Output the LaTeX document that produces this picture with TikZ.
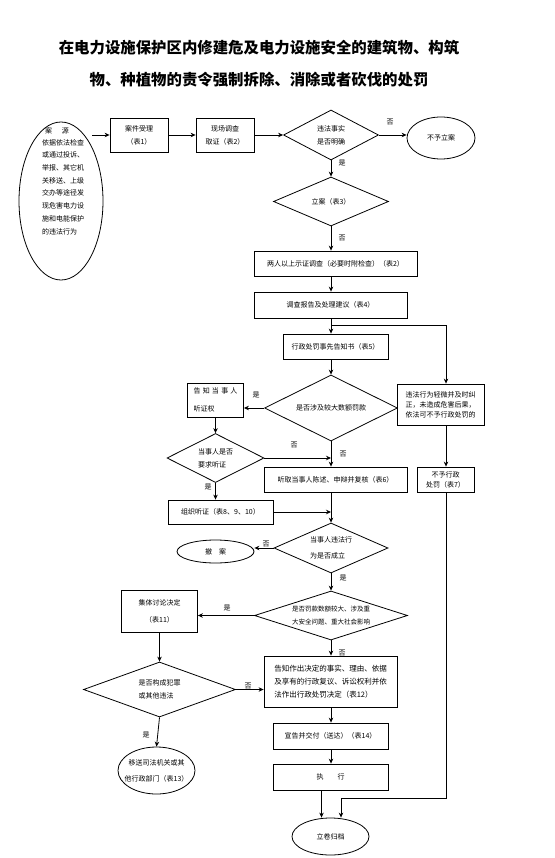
\documentclass[tikz,border=0pt]{standalone}
\usepackage{fontspec}
\newfontfamily\cjk{Noto Sans CJK SC}
\usetikzlibrary{shapes.geometric,arrows.meta}
\begin{document}
\begin{tikzpicture}[x=1pt,y=-1pt,
  every node/.style={font=\cjk\fontsize{7}{13}\selectfont, inner sep=0pt},
  box/.style={draw, line width=0.8pt, rectangle, align=center},
  dia/.style={draw, line width=0.8pt, diamond, align=left},
  ell/.style={draw, line width=0.8pt, ellipse},
  txt/.style={align=left},
  arr/.style={line width=0.8pt, -{Stealth[length=5pt,width=4.5pt]}},
  ln/.style={line width=0.8pt},
  lbl/.style={font=\cjk\fontsize{7}{8}\selectfont}]
\fill[white] (0,0) rectangle (554,858);
\useasboundingbox (0,0) rectangle (554,858);

% title
\node[align=center, font=\cjk\bfseries\fontsize{15.4}{32}\selectfont] (title) at (259,64)
  {在电力设施保护区内修建危及电力设施安全的建筑物、构筑\\物、种植物的责令强制拆除、消除或者砍伐的处罚};

% source ellipse
\node[ell, minimum width=84, minimum height=158] (src) at (61,201) {};
\node (srcA) at (57,131) {案\hspace{10pt}源};
\node[txt, font=\cjk\fontsize{7}{12.7}\selectfont, anchor=north west] (srcB) at (42,139)
  {依据依法检查\\或通过投诉、\\举报、其它机\\关移送、上级\\交办等途径发\\现危害电力设\\施和电能保护\\的违法行为};
\coordinate (srcout) at (92,135);

% top row
\node[box, minimum width=58, minimum height=34] (accept) at (139,135) {案件受理\\（表1）};
\node[box, minimum width=58, minimum height=34] (survey) at (225,135) {现场调查\\取证（表2）};
\node[dia, minimum width=95, minimum height=50, aspect=1.9] (d1) at (331,135) {违法事实\\是否明确};
\node[ell, minimum width=68, minimum height=42] (nocase) at (441,138) {};
\node (nocaseT) at (nocase) {不予立案};

\node[dia, minimum width=115, minimum height=49, aspect=2.35] (d2) at (331,201.5) {立案（表3）};

\node[box, minimum width=163, minimum height=25] (b1) at (335.5,263.5) {两人以上示证调查（必要时附检查）（表2）};
\node[box, minimum width=153, minimum height=26] (b2) at (330.5,305) {调查报告及处理建议（表4）};
\node[box, minimum width=105, minimum height=25] (b3) at (335.5,346.5) {行政处罚事先告知书（表5）};
\coordinate (br) at (331,325);
\coordinate (rc) at (446,325);

\node[box, minimum width=87, minimum height=41, align=left, font=\cjk\fontsize{7}{10}\selectfont] (rb) at (440.5,404.5)
  {违法行为轻微并及时纠\\正，未造成危害后果，\\依法可不予行政处罚的};
\node[box, minimum width=57, minimum height=25, font=\cjk\fontsize{7}{10}\selectfont] (nb) at (445.5,479.5) {不予行政\\处罚（表7）};

\node[dia, minimum width=133, minimum height=66, aspect=2] (d3) at (331,408) {是否涉及较大数额罚款};
\node[box, minimum width=56, minimum height=34, align=left, font=\cjk\fontsize{7}{18}\selectfont] (tb) at (215.5,400)
  {\makebox[44pt][s]{告\hfil 知\hfil 当\hfil 事\hfil 人}\\听证权};
\node[dia, minimum width=97, minimum height=49, aspect=2] (d4) at (215.5,458) {当事人是否\\要求听证};
\node[box, minimum width=143, minimum height=25] (hb) at (335.5,479.5) {听取当事人陈述、申辩并复核（表6）};
\node[box, minimum width=105, minimum height=24] (ob) at (220.5,512) {组织听证（表8、9、10）};

\node[dia, minimum width=114, minimum height=50, aspect=2.3, font=\cjk\fontsize{7}{16}\selectfont] (d5) at (331,548) {当事人违法行\\为是否成立};
\node[ell, minimum width=77, minimum height=23] (cx) at (215.5,551.5) {};
\node (cxT) at (cx) {撤\hspace{7pt}案};

\node[dia, minimum width=153, minimum height=49, aspect=3.1, font=\cjk\fontsize{6.5}{13}\selectfont] (d6) at (331,615.5)
  {是否罚款数额较大、涉及重\\大安全问题、重大社会影响};
\node[box, minimum width=76, minimum height=42, font=\cjk\fontsize{7}{17}\selectfont] (jb) at (159.5,611) {集体讨论决定\\（表11）};
\node[dia, minimum width=152, minimum height=55, aspect=2.76] (d7) at (159.5,689.5) {是否构成犯罪\\或其他违法};
\node[box, minimum width=133, minimum height=51, align=left, font=\cjk\fontsize{7.5}{13}\selectfont] (b12) at (330.5,681.5)
  {告知作出决定的事实、理由、依据\\及享有的行政复议、诉讼权利并依\\法作出行政处罚决定（表12）};
\node[ell, minimum width=77, minimum height=47] (ys) at (156.5,770.5) {};
\node[align=center, font=\cjk\fontsize{7}{16}\selectfont] (ysT) at (ys) {移送司法机关或其\\他行政部门（表13）};

\node[box, minimum width=115, minimum height=26] (b14) at (330.5,736) {宣告并交付（送达）（表14）};
\node[box, minimum width=115, minimum height=26] (bz) at (330.5,777) {执\hspace{14pt}行};
\node[ell, minimum width=77, minimum height=37] (lj) at (330.5,836.5) {};
\node (ljT) at (lj) {立卷归档};
\coordinate (rb2) at (446,798);
\coordinate (lk) at (341,798);

% connectors
\draw[arr] (srcout) -- (accept.west);
\draw[arr] (accept.east) -- (survey.west);
\draw[arr] (survey.east) -- (d1.west);
\draw[arr] (d1.east) -- (d1.east -| nocase.west);
\node[lbl] (l1) at (390,122) {否};
\draw[arr] (d1.south) -- (d2.north);
\node[lbl] (l2) at (342,163) {是};
\draw[arr] (d2.south) -- (d2.south |- b1.north);
\node[lbl] (l3) at (342,238) {否};
\draw[arr] (b1.south -| d2.south) -- (b2.north -| d2.south);
\draw[arr] (b2.south -| d2.south) -- (b3.north -| d2.south);
\draw[ln] (br) -- (rc);
\draw[arr] (rc) -- (rc |- rb.north);
\draw[arr] (rb.south -| rc) -- (nb.north -| rc);
\draw[arr] (nb.south -| rc) -- (rb2) -- (lk) -- (lk |- lj.north);
\draw[arr] (b3.south -| d3.north) -- (d3.north);
\draw[arr] (d3.west) -- (d3.west -| tb.east);
\node[lbl] (l4) at (256,395) {是};
\draw[arr] (tb.south) -- (d4.north);
\draw[arr] (d4.east) -- (d4.east -| d3.south);
\node[lbl] (l5) at (294,445) {否};
\draw[arr] (d3.south) -- (d3.south |- hb.north);
\node[lbl] (l6) at (343,454) {否};
\draw[arr] (d4.south) -- (d4.south |- ob.north);
\node[lbl] (l7) at (208,487) {是};
\draw[arr] (ob.east) -- (ob.east -| d3.south);
\draw[arr] (hb.south -| d5.north) -- (d5.north);
\draw[arr] (d5.west) -- (d5.west -| cx.east);
\node[lbl] (l8) at (266,544) {否};
\draw[arr] (d5.south) -- (d6.north);
\node[lbl] (l9) at (343,578) {是};
\draw[arr] (d6.west) -- (d6.west -| jb.east);
\node[lbl] (l10) at (227,608) {是};
\draw[arr] (jb.south) -- (d7.north);
\draw[arr] (d6.south) -- (d6.south |- b12.north);
\node[lbl] (l11) at (342,653) {否};
\draw[arr] (d7.east) -- (d7.east -| b12.west);
\node[lbl] (l12) at (248,686) {否};
\draw[arr] (d7.south) -- (ys.north);
\node[lbl] (l13) at (146,735) {是};
\draw[arr] (b12.south -| d6.south) -- (b14.north -| d6.south);
\draw[arr] (b14.south -| d6.south) -- (bz.north -| d6.south);
\draw[arr] ([xshift=-9pt]bz.south) -- ([xshift=-9pt]bz.south |- lj.north);
\end{tikzpicture}
\end{document}
